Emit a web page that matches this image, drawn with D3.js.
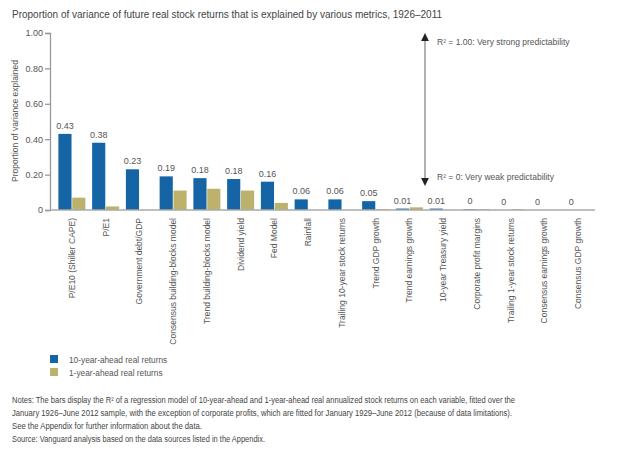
<!DOCTYPE html>
<html>
<head>
<meta charset="utf-8">
<script src="https://cdn.jsdelivr.net/npm/d3@7"></script>
<style>
  body { margin: 0; background: #fff; }
  text { font-family: "Liberation Sans", Arial, sans-serif; fill: #555; }
</style>
</head>
<body>
<script>
const width = 640;
const height = 454;

// categories and series
const categories = [
    "P/E10 (Shiller CAPE)", "P/E1", "Government debt/GDP", "Consensus building-blocks model",
    "Trend building-blocks model", "Dividend yield", "Fed Model", "Rainfall",
    "Trailing 10-year stock returns", "Trend GDP growth", "Trend earnings growth",
    "10-year Treasury yield", "Corporate profit margins", "Trailing 1-year stock returns",
    "Consensus earnings growth", "Consensus GDP growth"
];
const tenYear = [0.43, 0.38, 0.23, 0.19, 0.18, 0.175, 0.16, 0.06, 0.06, 0.05, 0.008, 0.008, 0.004, 0, 0, 0];
const tenYearLabels = ["0.43", "0.38", "0.23", "0.19", "0.18", "0.18", "0.16", "0.06", "0.06", "0.05", "0.01", "0.01", "0", "0", "0", "0"];
const oneYear = [0.07, 0.02, 0, 0.11, 0.12, 0.11, 0.04, 0, 0, 0.004, 0.015, 0, 0.004, 0.004, 0, 0];
const seriesNames = ["10-year-ahead real returns", "1-year-ahead real returns"];
const colors = ["#1565a6", "#bdb26c"];
const yTicks = [0, 0.2, 0.4, 0.6, 0.8, 1.0];

const notes = [
    "Notes: The bars display the R\u00b2 of a regression model of 10-year-ahead and 1-year-ahead real annualized stock returns on each variable, fitted over the",
    "January 1926\u2013June 2012 sample, with the exception of corporate profits, which are fitted for January 1929\u2013June 2012 (because of data limitations).",
    "See the Appendix for further information about the data.",
    "Source: Vanguard analysis based on the data sources listed in the Appendix."
];

let svg = d3.select("body").append("svg").attr("width", width).attr("height", height);

// title
svg.append("text").attr("x", 12).attr("y", 18)
    .style("font-size", "10px").style("fill", "#444")
    .text("Proportion of variance of future real stock returns that is explained by various metrics, 1926\u20132011");

// scales
let x = d3.scaleBand().domain(categories).range([55, 595]).paddingInner(0.2).paddingOuter(0.1);
let xSub = d3.scaleBand().domain([0, 1]).range([0, x.bandwidth()]).paddingInner(0.05);
let y = d3.scaleLinear().domain([0, 1]).range([210, 33]);

// y axis
let yAxis = svg.append("g").attr("transform", "translate(50,0)")
    .call(d3.axisLeft(y).tickValues(yTicks).tickSize(5).tickPadding(2)
        .tickFormat(d => d === 0 ? "0" : d3.format(".2f")(d)));
yAxis.selectAll("line, path").attr("stroke", "#999").attr("stroke-width", 1.3);
yAxis.selectAll("text").style("font-size", "9px").style("fill", "#555").style("font-family", "Liberation Sans, Arial, sans-serif");

svg.append("text")
    .attr("transform", "translate(18,121) rotate(-90)")
    .attr("text-anchor", "middle")
    .style("font-size", "8.5px")
    .text("Proportion of variance explained");

// bars
let groups = svg.append("g").selectAll("g")
    .data(categories)
    .enter().append("g")
    .attr("transform", d => `translate(${x(d)},0)`);

groups.append("rect")
    .attr("x", xSub(0)).attr("width", xSub.bandwidth())
    .attr("y", (d, i) => y(tenYear[i]))
    .attr("height", (d, i) => y(0) - y(tenYear[i]))
    .attr("fill", colors[0]);

groups.append("rect")
    .attr("x", xSub(1)).attr("width", xSub.bandwidth())
    .attr("y", (d, i) => y(oneYear[i]))
    .attr("height", (d, i) => y(0) - y(oneYear[i]))
    .attr("fill", colors[1]);

groups.append("text")
    .attr("x", xSub(0) + xSub.bandwidth() / 2)
    .attr("y", (d, i) => y(tenYear[i]) - 5)
    .attr("text-anchor", "middle")
    .style("font-size", "9px")
    .text((d, i) => tenYearLabels[i]);

// baseline
svg.append("line").attr("x1", 50).attr("x2", 595).attr("y1", y(0)).attr("y2", y(0))
    .attr("stroke", "#aaa").attr("stroke-width", 1.3);

// x labels
groups.append("text")
    .attr("transform", `translate(${x.bandwidth() / 2 + 3},218) rotate(-90)`)
    .attr("text-anchor", "end")
    .style("font-size", "8.5px")
    .text(d => d);

// predictability arrow
svg.append("defs").append("marker")
    .attr("id", "arr").attr("viewBox", "0 0 10 10").attr("refX", 5).attr("refY", 5)
    .attr("markerWidth", 6).attr("markerHeight", 6).attr("orient", "auto-start-reverse")
    .append("path").attr("d", "M0,0 L10,5 L0,10 Z").attr("fill", "#222");

svg.append("line").attr("x1", 425).attr("x2", 425).attr("y1", y(1) + 4).attr("y2", 182)
    .attr("stroke", "#888").attr("stroke-width", 1.3)
    .attr("marker-start", "url(#arr)").attr("marker-end", "url(#arr)");

svg.append("text").attr("x", 437).attr("y", 45).style("font-size", "8.5px")
    .text("R\u00b2 = 1.00: Very strong predictability");
svg.append("text").attr("x", 437).attr("y", 180).style("font-size", "8.5px")
    .text("R\u00b2 = 0: Very weak predictability");

// legend
let legend = svg.append("g").selectAll("g").data(seriesNames).enter().append("g")
    .attr("transform", (d, i) => `translate(50,${355 + i * 13})`);
legend.append("rect").attr("width", 8).attr("height", 8).attr("fill", (d, i) => colors[i]);
legend.append("text").attr("x", 19).attr("y", 8).style("font-size", "8.3px").text(d => d);

// notes and source (condensed face in the original, so squeeze to its widths)
const noteWidths = [503, 500, 190, 253];
const noteY = [403, 416, 429, 442];
svg.selectAll(".note").data(notes).enter().append("text")
    .attr("class", "note")
    .attr("x", 12).attr("y", (d, i) => noteY[i])
    .attr("textLength", (d, i) => noteWidths[i]).attr("lengthAdjust", "spacingAndGlyphs")
    .style("font-size", "8.5px").style("fill", "#444")
    .text(d => d);
</script>
</body>
</html>
